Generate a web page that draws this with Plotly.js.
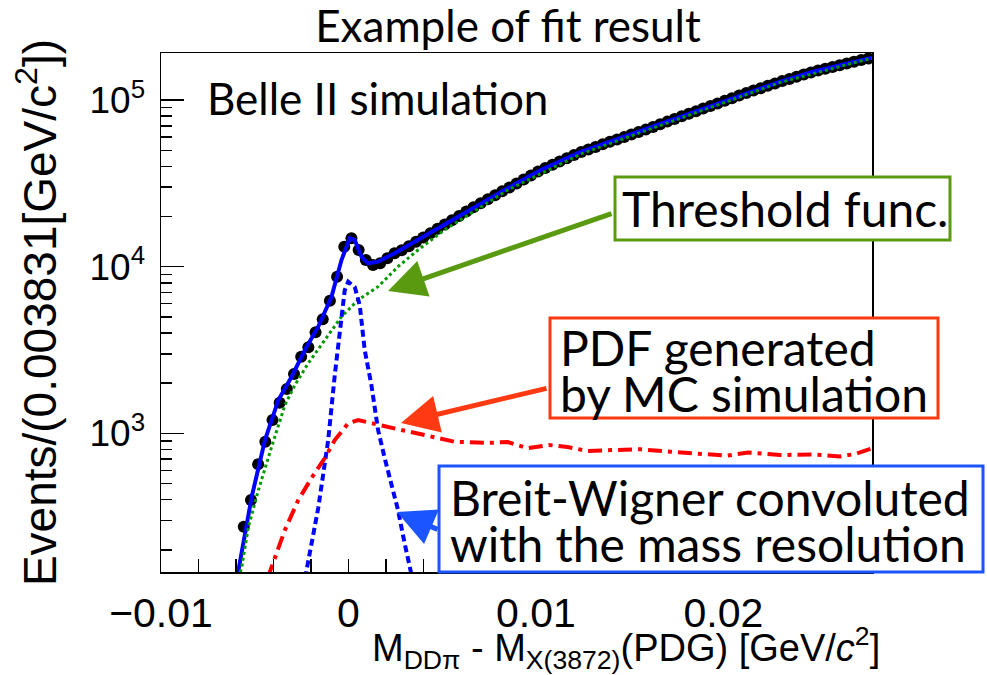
<!DOCTYPE html>
<html>
<head>
<meta charset="utf-8">
<script src="https://cdn.plot.ly/plotly-3.0.1.min.js"></script>
<style>html,body{margin:0;padding:0;background:#fff;}#chart{width:987px;height:675px;}</style>
</head>
<body>
<div id="chart"></div>
<script>
// ---- data ----
const dataX = [-0.005585,-0.005202,-0.004819,-0.004436,-0.004053,-0.00367,-0.003287,-0.002904,-0.002521,-0.002138,
  -0.001755,-0.001372,-0.000989,-0.000606,-0.000223,0.00016,0.000543,0.000926,0.001309,0.001692,
  0.002075,0.002458,0.002841,0.003224,0.003607,0.00399,0.004373,0.004756,0.005139,0.005522,
  0.005905,0.006288,0.006671,0.007054,0.007437,0.00782,0.008203,0.008586,0.008969,0.009352,
  0.009735,0.010118,0.010501,0.010884,0.011267,0.01165,0.012033,0.012416,0.012799,0.013182,
  0.013565,0.013948,0.014331,0.014714,0.015097,0.01548,0.015863,0.016246,0.016629,0.017012,
  0.017395,0.017778,0.018161,0.018544,0.018927,0.01931,0.019693,0.020076,0.020459,0.020842,
  0.021225,0.021608,0.021991,0.022374,0.022757,0.02314,0.023523,0.023906,0.024289,0.024672,
  0.025055,0.025438,0.025821,0.026204,0.026587,0.02697,0.027353,0.027736];
const dataY = [275,398,652,890,1202,1527,1845,2270,2883,3283,
  4038,4834,6251,8710,13190,14810,12600,10970,10240,10480,
  11230,12030,12545,13275,14110,14975,15890,16870,17920,19020,
  20180,21420,22760,24050,25390,26830,28350,29920,31620,33420,
  35270,37270,39120,40890,42810,44740,46760,48880,50590,52370,
  54280,56190,58080,60120,62140,64330,66500,68930,71550,74270,
  77130,79950,82880,85790,88920,92050,95410,99030,102660,106560,
  110460,114180,117870,121850,125950,130020,134050,138190,142460,146660,
  150560,154360,158240,162000,166080,170030,173830,177710];

const fitX = [-0.00596,-0.00516,-0.004452,-0.003739,-0.003032,-0.002324,-0.001612,-0.000904,-0.000372,0.000069,
  0.000335,0.000691,0.001048,0.00158,0.002463,0.004947,0.006718,0.008495,0.010266,0.012394,
  0.014149,0.017713,0.021277,0.023032,0.024787,0.026596,0.027926];
const fitY = [132,416,911,1585,2186,3162,4363,6604,10970,14810,
  14470,11480,10480,10720,12030,17380,22910,29550,38050,48820,
  57220,79520,111060,128950,148100,166300,179700];

const thrX = [-0.00585,-0.005691,-0.005335,-0.004803,-0.004096,-0.003388,-0.002856,-0.002144,-0.001261,-0.000372,
  0.000516,0.00158,0.002644,0.003707,0.005122,0.008495,0.012394,0.017713,0.023032,0.027926];
const thrY = [135,158,275,457,831,1479,1950,2632,3631,5010,
  6312,7586,10000,12600,16610,28870,47480,78100,127530,178900];

const bwX = [-0.002287,-0.002234,-0.001612,-0.00108,-0.000729,-0.000463,-0.000197,-0.000016,0.000335,0.000601,
  0.000867,0.001223,0.00158,0.001931,0.002287,0.002644,0.002995,0.003351,0.003404];
const bwY = [135,151,356,911,2239,4169,7244,8128,7553,5891,
  3162,1950,1047,711,503,346,219,147,135];

const pdfX = [-0.004229,-0.004186,-0.003388,-0.002676,-0.001968,-0.001261,-0.000729,-0.000016,0.000516,0.00158,
  0.002819,0.004059,0.005654,0.007431,0.008495,0.009559,0.010691,0.011686,0.01275,0.014165,
  0.015585,0.017181,0.018777,0.020197,0.02133,0.023032,0.024803,0.026223,0.027021,0.027644,0.027926];
const pdfY = [135,148,263,398,539,711,911,1148,1202,1122,
  1047,977,890,875,887,813,851,828,783,794,
  802,775,751,734,767,741,746,726,751,794,811];

const xTickVals = [-0.01, 0, 0.01, 0.02];
const xTickText = ['\u22120.01', '0', '0.01', '0.02'];
const xMinorVals = [-0.008,-0.006,-0.004,-0.002,0.002,0.004,0.006,0.008,0.012,0.014,0.016,0.018,0.022,0.024,0.026];
const yTickVals = [1000, 10000, 100000];
const yTickText = ['10<sup>3</sup>', '10<sup>4</sup>', '10<sup>5</sup>'];
const yMinorVals = [200,300,400,500,600,700,800,900,2000,3000,4000,5000,6000,7000,8000,9000,
  20000,30000,40000,50000,60000,70000,80000,90000,200000];

// ---- styling ----
const GREEN = '#5a9a10', RED = '#ff3a12', BLUE = '#1a55ff';
const calib = 'Lato, "Open Sans", sans-serif';
const helv = '"Liberation Sans", Arial, sans-serif';

const traces = [
  {x: dataX, y: dataY, type: 'scatter', mode: 'markers', name: 'MC data',
   marker: {color: '#000', size: 12}},
  {x: fitX, y: fitY, type: 'scatter', mode: 'lines', name: 'Fit',
   line: {color: '#0000ff', width: 4}},
  {x: thrX, y: thrY, type: 'scatter', mode: 'lines', name: 'Threshold func.',
   line: {color: '#009a00', width: 3, dash: 'dot'}},
  {x: bwX, y: bwY, type: 'scatter', mode: 'lines', name: 'Breit-Wigner',
   line: {color: '#0000ff', width: 4, dash: '7px,4px'}},
  {x: pdfX, y: pdfY, type: 'scatter', mode: 'lines', name: 'PDF (MC)',
   line: {color: '#ff0000', width: 4, dash: '14px,6px,4px,6px'}}
];

function px2paperX(p) { return (p - 161) / 711; }
function px2paperY(p) { return (572 - p) / 519; }

function box(x0, y0, x1, y1, color) {
  return {type: 'rect', xref: 'paper', yref: 'paper', layer: 'above',
    x0: px2paperX(x0), x1: px2paperX(x1), y0: px2paperY(y1), y1: px2paperY(y0),
    line: {color: color, width: 3}, fillcolor: '#fff'};
}
function label(text, xLeft, yMid, size) {
  return {text: text, xref: 'paper', yref: 'paper', x: px2paperX(xLeft), y: px2paperY(yMid),
    xanchor: 'left', yanchor: 'middle', showarrow: false, align: 'left',
    font: {family: calib, size: size, color: '#000'}};
}
function arrow(tipX, tipY, tailX, tailY, color) {
  return {text: '', xref: 'paper', yref: 'paper', x: px2paperX(tipX), y: px2paperY(tipY),
    ax: tailX - tipX, ay: tailY - tipY, showarrow: true, arrowhead: 2, arrowsize: 1.5,
    arrowwidth: 5, arrowcolor: color};
}

const layout = {
  width: 987, height: 675,
  margin: {l: 161, r: 115, t: 53, b: 103},
  paper_bgcolor: '#fff', plot_bgcolor: '#fff',
  showlegend: false,
  title: {text: 'Example of fit result', font: {family: calib, size: 44, color: '#000'},
          x: 508/987, xanchor: 'center', y: 1 - 27/675, yanchor: 'middle'},
  xaxis: {
    range: [-0.01, 0.02793], showgrid: false, zeroline: false,
    showline: true, mirror: true, linecolor: '#000', linewidth: 1.5,
    tickmode: 'array', tickvals: xTickVals, ticktext: xTickText,
    ticks: 'inside', ticklen: 13, tickwidth: 1.5, tickcolor: '#000',
    ticklabelstandoff: 4,
    tickfont: {family: helv, size: 41, color: '#000'},
    minor: {tickmode: 'array', tickvals: xMinorVals, ticks: 'inside', ticklen: 13, tickwidth: 1.5, tickcolor: '#000', showgrid: false}
  },
  yaxis: {
    type: 'log', range: [2.1675, 5.2827], showgrid: false, zeroline: false,
    showline: true, mirror: true, linecolor: '#000', linewidth: 1.5,
    tickmode: 'array', tickvals: yTickVals, ticktext: yTickText,
    ticks: 'inside', ticklen: 23, tickwidth: 1.5, tickcolor: '#000',
    ticklabelstandoff: 7,
    tickfont: {family: helv, size: 37, color: '#000'},
    minor: {tickmode: 'array', tickvals: yMinorVals, ticks: 'inside', ticklen: 11, tickwidth: 1.5, tickcolor: '#000', showgrid: false},
    title: {text: 'Events/(0.003831[GeV/c<sup>2</sup>])', font: {family: helv, size: 46, color: '#000'}, standoff: 18}
  },
  shapes: [
    box(615, 177, 950, 240, GREEN),
    box(550, 318, 938, 418, RED),
    box(439, 466, 983, 572, BLUE)
  ],
  annotations: [
    {text: 'M<sub>DDπ</sub> - M<sub>X(3872)</sub>(PDG) [GeV/<i>c</i><sup>2</sup>]',
     xref: 'paper', yref: 'paper', x: px2paperX(882), y: px2paperY(648),
     xanchor: 'right', yanchor: 'middle', showarrow: false,
     font: {family: helv, size: 38, color: '#000'}},
    {text: 'Belle II simulation', xref: 'paper', yref: 'paper',
     x: px2paperX(205), y: px2paperY(98), xanchor: 'left', yanchor: 'middle', showarrow: false,
     font: {family: calib, size: 44, color: '#000'}},
    arrow(388, 291, 613, 213, GREEN),
    arrow(401, 423, 548, 388, RED),
    arrow(397, 512, 439, 530, BLUE),
    label('Threshold func.', 620, 209, 48),
    label('PDF generated', 558, 347, 48),
    label('by MC simulation', 558, 393, 48),
    label('Breit-Wigner convoluted', 448, 497, 48),
    label('with the mass resolution', 448, 543, 48)
  ]
};

Plotly.newPlot('chart', traces, layout, {displayModeBar: false, staticPlot: true});
</script>
</body>
</html>
